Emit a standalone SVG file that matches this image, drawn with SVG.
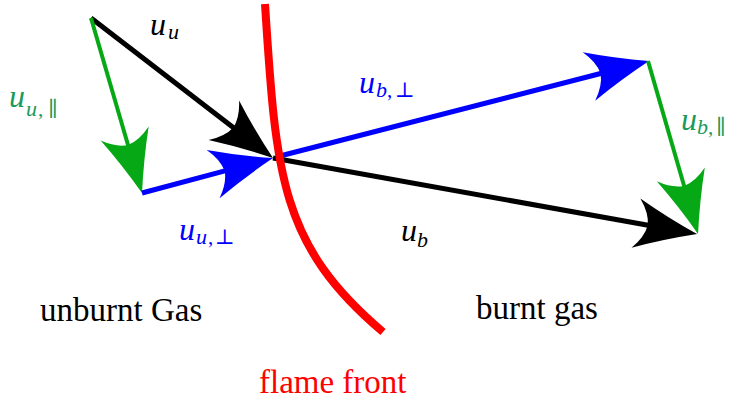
<svg xmlns="http://www.w3.org/2000/svg" width="729" height="401" viewBox="0 0 729 401">
<style>
.lbl{font-family:"Liberation Serif","DejaVu Serif",serif;}
.m{font-style:italic;font-size:32px;}
.s{font-style:italic;font-size:22px;}
.sy{font-style:normal;font-size:21px;}
.big{font-family:"Liberation Serif","DejaVu Serif",serif;font-size:33px;}
.blk{fill:#000;}
.blu{fill:#0000ff;}
.grn{fill:#1a9a5a;}
.red{fill:#ff0000;}
.shaft{fill:none;stroke-linecap:butt;}
</style>
<defs>
<path id="head" d="M0,0 Q-32,-11 -62,-25 Q-51,-12 -50,0 Q-51,12 -62,25 Q-32,11 0,0 Z"/>
<marker id="ahK" markerUnits="userSpaceOnUse" viewBox="-64 -27 66 54" markerWidth="66" markerHeight="54" refX="-44" refY="0" orient="auto" overflow="visible"><use href="#head" fill="#000"/></marker>
<marker id="ahB" markerUnits="userSpaceOnUse" viewBox="-64 -27 66 54" markerWidth="66" markerHeight="54" refX="-44" refY="0" orient="auto" overflow="visible"><use href="#head" fill="#0000ff"/></marker>
<marker id="ahG" markerUnits="userSpaceOnUse" viewBox="-64 -27 66 54" markerWidth="66" markerHeight="54" refX="-44" refY="0" orient="auto" overflow="visible"><use href="#head" fill="#06a816"/></marker>
</defs>
<rect width="729" height="401" fill="#fff"/>
<g id="connectors">
<line id="uu" class="shaft" x1="91" y1="18" x2="238.1" y2="131.2" stroke="#000" stroke-width="5" marker-end="url(#ahK)"/>
<line id="uu-par" class="shaft" x1="91" y1="18" x2="129.7" y2="150.8" stroke="#06a816" stroke-width="4" marker-end="url(#ahG)"/>
<line id="uu-perp" class="shaft" x1="142" y1="193" x2="230.5" y2="169.4" stroke="#0000ff" stroke-width="5" marker-end="url(#ahB)"/>
<line id="ub-perp" class="shaft" x1="276" y1="157" x2="606.4" y2="72" stroke="#0000ff" stroke-width="5" marker-end="url(#ahB)"/>
<line id="ub-par" class="shaft" x1="648" y1="61" x2="685.8" y2="191.7" stroke="#06a816" stroke-width="4" marker-end="url(#ahG)"/>
<line id="ub" class="shaft" x1="273" y1="158" x2="653.7" y2="226.2" stroke="#000" stroke-width="5" marker-end="url(#ahK)"/>
</g>
<g id="flame-front">
<path d="M265,4 C276,175 280,245 383,332" fill="none" stroke="#ff0000" stroke-width="8"/>
<text class="big red" x="259" y="393">flame front</text>
</g>
<g id="label-uu" class="lbl blk"><text class="m" x="150" y="35">u</text><text class="s" x="168" y="39">u</text></g>
<g id="label-uu-par" class="lbl grn"><text class="m" x="9" y="107">u</text><text class="s" x="26" y="116">u</text><text class="sy" x="38" y="116">,</text><text class="sy" x="48" y="116">∥</text></g>
<g id="label-uu-perp" class="lbl blu"><text class="m" x="179" y="240">u</text><text class="s" x="196" y="244">u</text><text class="sy" x="208" y="244">,</text><text class="sy" x="215" y="244">⊥</text></g>
<g id="label-ub-perp" class="lbl blu"><text class="m" x="359" y="93">u</text><text class="s" x="376" y="97">b</text><text class="sy" x="387" y="97">,</text><text class="sy" x="395" y="97">⊥</text></g>
<g id="label-ub-par" class="lbl grn"><text class="m" x="681" y="130">u</text><text class="s" x="697" y="134">b</text><text class="sy" x="708" y="134">,</text><text class="sy" x="716" y="134">∥</text></g>
<g id="label-ub" class="lbl blk"><text class="m" x="401" y="241">u</text><text class="s" x="417" y="247">b</text></g>
<g id="unburnt"><text class="big blk" x="40" y="321">unburnt Gas</text></g>
<g id="burnt"><text class="big blk" x="476" y="319">burnt gas</text></g>
</svg>
